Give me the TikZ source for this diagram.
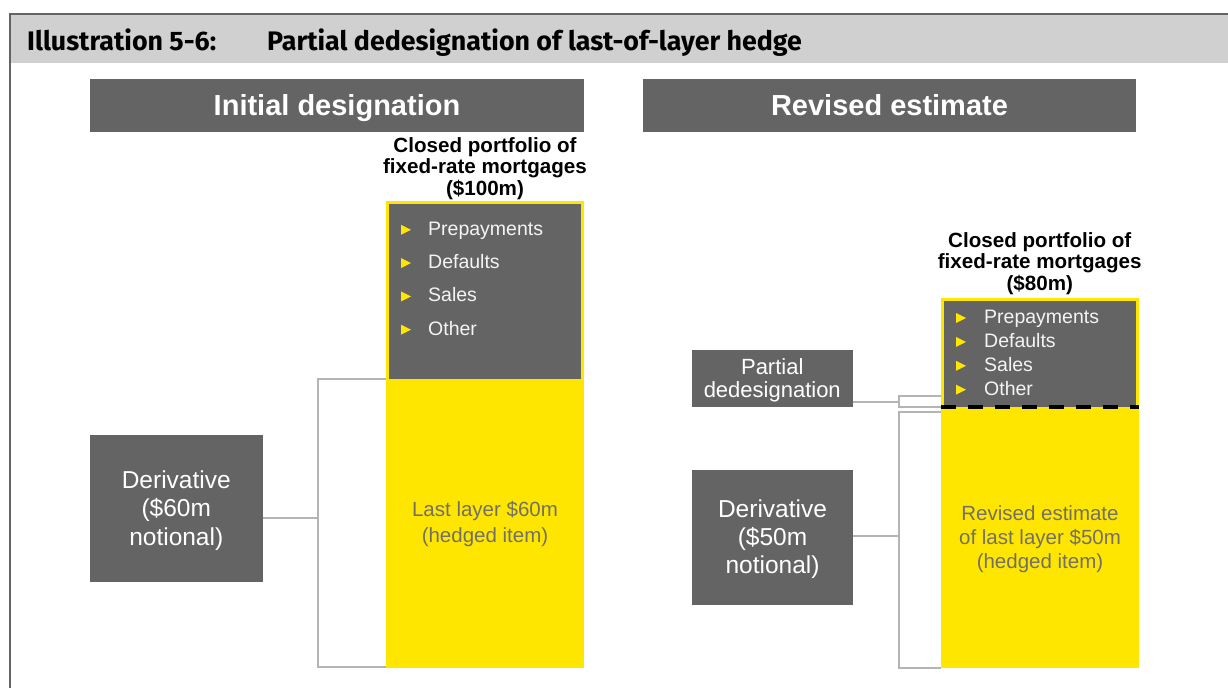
\documentclass[tikz,border=0pt]{standalone}
\usepackage{fontspec}
\setmainfont{Liberation Sans}
\newfontfamily\titlefont{Fira Sans}
\definecolor{eygray}{HTML}{646464}
\definecolor{eyyellow}{HTML}{FFE600}
\definecolor{hdrgray}{HTML}{D0D0D0}
\definecolor{lngray}{HTML}{B4B4B4}
\definecolor{itemtxt}{HTML}{F4F4F4}
\definecolor{hedgetxt}{HTML}{727066}
\tikzset{
  banner/.style={fill=eygray, text=white, inner sep=0pt, align=center,
    text height=20pt, text depth=0pt,
    font=\bfseries\fontsize{29}{30}\selectfont},
  darkbox/.style={fill=eygray, inner sep=0pt},
  boxtext/.style={text=white, inner sep=0pt, align=center},
  ybox/.style={fill=eyyellow, inner sep=0pt},
  gbox/.style={fill=eygray, inner sep=0pt},
  heading/.style={align=center, inner sep=0pt, text=black,
    font=\bfseries\fontsize{20.6}{21.5}\selectfont},
  itemlbl/.style={anchor=base west, inner sep=0pt, text=itemtxt,
    font=\fontsize{19.5}{22}\selectfont},
  hedgelbl/.style={align=center, inner sep=0pt, text=hedgetxt},
  conn/.style={draw=lngray, line width=2pt},
  bullet/.style={fill=eyyellow},
  dashline/.style={draw=black, line width=3.5pt, dash pattern=on 15pt off 12pt},
  titletext/.style={anchor=base west, inner sep=0pt, text=black,
    font=\titlefont\bfseries\fontsize{26.8}{28}\selectfont}
}
\begin{document}
\begin{tikzpicture}[x=1pt,y=-1pt]
\useasboundingbox (0,0) rectangle (1228,688);
% frame and header
\fill[hdrgray] (11.3,15.3) rectangle (1228,63.3);
\draw[eygray, line width=2.2pt] (10.3,688) -- (10.3,14.3) -- (1228,14.3);
\node[titletext] (t1) at (27,50) {Illustration 5-6:};
\node[titletext] (t2) at (267,50) {Partial dedesignation of last-of-layer hedge};
% banners
\node[banner, minimum width=494, minimum height=53] (ban1) at (337,105.5) {Initial designation};
\node[banner, minimum width=493, minimum height=53] (ban2) at (889.5,105.5) {Revised estimate};
% ---------- left: initial designation
\node[heading] (hd1) at (485,168.5) {Closed portfolio of\\fixed-rate mortgages\\(\$100m)};
\node[ybox, minimum width=198, minimum height=467] (port1) at (485,434.5) {};
\node[gbox, minimum width=192, minimum height=174.5] (risk1) at (485,291.25) {};
\foreach \yy/\txt/\nm in {235.3/Prepayments/a, 268.6/Defaults/b, 301.9/Sales/c, 335.2/Other/d}{
  \fill[bullet] (401,\yy-10.5) -- (411,\yy-5.5) -- (401,\yy-0.5) -- cycle;
  \node[itemlbl] (i1\nm) at (428,\yy) {\txt};
}
\node[hedgelbl, font=\fontsize{20.5}{26}\selectfont] (h1) at (485,524) {Last layer \$60m\\(hedged item)};
\node[darkbox, minimum width=172.5, minimum height=147] (d1) at (176.25,508.8) {};
\node[boxtext, font=\fontsize{24.5}{28.2}\selectfont] (d1t) at ([yshift=-1.7pt]d1.center) {Derivative\\(\$60m\\notional)};
\coordinate (br1) at (317.7,518.3);
\coordinate (c1t) at (386,379);
\coordinate (c1b) at (386,667);
\draw[conn] (c1t) -| (br1) |- (c1b);
\draw[conn] (d1.east |- br1) -- (br1);
% ---------- right: revised estimate
\node[heading] (hd2) at (1039.75,263.5) {Closed portfolio of\\fixed-rate mortgages\\(\$80m)};
\node[ybox, minimum width=197.5, minimum height=370.5] (port2) at (1039.75,482.75) {};
\node[gbox, minimum width=191.5, minimum height=106.5] (risk2) at (1039.75,353.75) {};
\foreach \yy/\txt/\nm in {323.5/Prepayments/a, 347.4/Defaults/b, 371.3/Sales/c, 395.2/Other/d}{
  \fill[bullet] (956,\yy-10.5) -- (966,\yy-5.5) -- (956,\yy-0.5) -- cycle;
  \node[itemlbl] (i2\nm) at (984,\yy) {\txt};
}
\draw[dashline] (risk2.south -| port2.west) -- (risk2.south -| port2.east);
\node[hedgelbl, font=\fontsize{20.5}{24}\selectfont] (h2) at (1040,539.5) {Revised estimate\\of last layer \$50m\\(hedged item)};
\node[darkbox, minimum width=161.5, minimum height=57] (pd) at (772.25,378) {};
\node[boxtext, font=\fontsize{22}{23.3}\selectfont] (pdt) at ([yshift=-2pt]pd.center) {Partial\\dedesignation};
\node[darkbox, minimum width=161, minimum height=135] (d2) at (772.5,537.5) {};
\node[boxtext, font=\fontsize{24.5}{28}\selectfont] (d2t) at ([yshift=-2pt]d2.center) {Derivative\\(\$50m\\notional)};
\coordinate (br2) at (899.3,401.8);
\coordinate (c2t) at (941,395.8);
\coordinate (c2b) at (941,407.3);
\draw[conn] (c2t) -| (br2) |- (c2b);
\draw[conn] (pd.east |- br2) -- (br2);
\coordinate (br3) at (899.3,536.2);
\coordinate (c3t) at (941,412.3);
\coordinate (c3b) at (941,668.3);
\draw[conn] (c3t) -| (br3) |- (c3b);
\draw[conn] (d2.east |- br3) -- (br3);
\end{tikzpicture}
\end{document}
